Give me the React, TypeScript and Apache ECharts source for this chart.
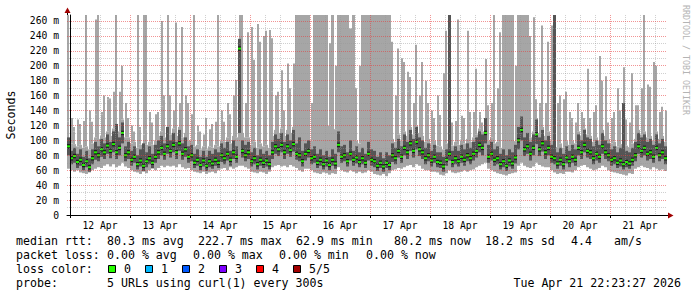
import React, { useEffect, useRef } from 'react';
import * as echarts from 'echarts';

// time axis: hours relative to 12 Apr 00:00; one column = 1.2 h
const X_MIN = -1.2;
const X_MAX = 238.8;
const STEP_HOURS = 1.2;
const Y_MAX = 268;

const dayLabels = ['12 Apr', '13 Apr', '14 Apr', '15 Apr', '16 Apr', '17 Apr', '18 Apr', '19 Apr', '20 Apr', '21 Apr'];
const dayStarts = [0, 24, 48, 72, 96, 120, 144, 168, 192, 216];
const dayNoons = [12, 36, 60, 84, 108, 132, 156, 180, 204, 228];
const quarterDays = [6, 12, 18, 30, 36, 42, 54, 60, 66, 78, 84, 90, 102, 108, 114, 126, 132, 138, 150, 156, 162, 174, 180, 186, 198, 204, 210, 222, 228, 234];
const yMajor = [0, 20, 40, 60, 80, 100, 120, 140, 160, 180, 200, 220, 240, 260];
const yMinor = [10, 30, 50, 70, 90, 110, 130, 150, 170, 190, 210, 230, 250];

// median rtt (ms) per column
const med = [
  92, 76, 79, 71, 74, 67, 72, 64, 76, 84,
  80, 88, 84, 93, 86, 95, 84, 90, 110, 80,
  84, 74, 78, 68, 73, 66, 72, 76, 70, 78,
  84, 90, 82, 92, 86, 94, 84, 96, 82, 88,
  78, 80, 70, 74, 67, 73, 66, 72, 69, 74,
  70, 80, 76, 82, 74, 84, 78, 223, 86, 80,
  84, 72, 76, 68, 74, 70, 73, 68, 84, 92,
  88, 94, 84, 92, 87, 95, 82, 80, 72, 82,
  86, 76, 78, 70, 74, 68, 73, 67, 74, 69,
  94, 78, 80, 72, 82, 74, 77, 71, 76, 70,
  82, 74, 72, 66, 70, 65, 70, 67, 80, 76,
  86, 78, 90, 84, 96, 86, 98, 88, 84, 76,
  80, 73, 78, 71, 70, 65, 74, 82, 71, 76,
  72, 78, 74, 80, 76, 82, 86, 94, 90, 110,
  78, 82, 74, 76, 68, 72, 66, 73, 69, 77,
  100, 114, 88, 92, 82, 90, 108, 88, 96, 84,
  90, 78, 76, 69, 74, 68, 77, 72, 78, 74,
  90, 84, 94, 86, 84, 76, 82, 78, 92, 84,
  80, 74, 76, 70, 73, 68, 71, 69, 74, 80,
  92, 86, 90, 82, 84, 78, 90, 80, 84, 76,
];

// lowest ping per column
const lo = [
  62, 60, 58, 60, 57, 56, 55, 57, 60, 62,
  64, 63, 66, 68, 65, 68, 64, 66, 70, 65,
  63, 60, 58, 57, 55, 58, 56, 60, 62, 60,
  63, 66, 64, 66, 65, 66, 64, 68, 64, 62,
  63, 60, 58, 57, 56, 58, 55, 57, 58, 56,
  60, 62, 63, 60, 64, 62, 64, 66, 66, 64,
  62, 58, 57, 56, 58, 57, 55, 58, 64, 66,
  67, 65, 66, 64, 67, 65, 63, 60, 58, 62,
  62, 60, 57, 56, 55, 57, 56, 54, 56, 55,
  64, 60, 58, 57, 60, 58, 56, 58, 56, 57,
  60, 58, 55, 54, 53, 55, 52, 56, 60, 61,
  63, 62, 64, 66, 67, 64, 68, 66, 62, 60,
  60, 58, 58, 57, 54, 53, 56, 60, 57, 56,
  57, 58, 60, 58, 60, 61, 64, 66, 68, 70,
  62, 60, 58, 56, 55, 54, 53, 55, 56, 57,
  66, 70, 66, 64, 63, 65, 70, 67, 65, 64,
  64, 60, 57, 55, 56, 55, 58, 58, 57, 60,
  64, 66, 67, 64, 62, 60, 61, 63, 66, 64,
  60, 58, 57, 56, 55, 54, 53, 56, 55, 62,
  64, 66, 64, 63, 61, 64, 62, 60, 61, 59,
];

// upper quartile of the pings (solid smoke up to here)
const mid = [
  100, 96, 95, 92, 94, 90, 92, 88, 96, 104,
  102, 106, 104, 112, 106, 116, 110, 112, 128, 104,
  104, 96, 98, 90, 94, 92, 94, 98, 94, 100,
  106, 112, 104, 114, 108, 116, 106, 118, 104, 110,
  100, 100, 92, 94, 88, 92, 88, 92, 90, 94,
  92, 100, 98, 104, 96, 106, 104, 236, 110, 104,
  104, 94, 98, 90, 96, 92, 94, 90, 106, 114,
  110, 116, 106, 114, 110, 118, 268, 268, 268, 268,
  268, 100, 268, 268, 268, 268, 268, 120, 268, 115,
  268, 268, 268, 268, 250, 268, 100, 96, 268, 268,
  268, 268, 268, 268, 268, 268, 268, 268, 102, 98,
  108, 100, 112, 106, 118, 108, 120, 110, 106, 98,
  102, 95, 100, 93, 92, 88, 96, 268, 93, 98,
  94, 100, 96, 102, 98, 104, 108, 116, 112, 130,
  100, 104, 96, 98, 90, 268, 268, 268, 268, 99,
  268, 268, 268, 268, 104, 112, 130, 110, 118, 106,
  112, 100, 268, 91, 96, 90, 99, 94, 100, 96,
  112, 106, 116, 108, 106, 98, 104, 100, 114, 106,
  102, 96, 98, 92, 95, 150, 93, 91, 96, 102,
  114, 108, 112, 104, 106, 100, 112, 102, 106, 98,
];

// 90th percentile of the pings (thinner smoke up to here)
const body = [
  125, 118, 112, 122, 115, 120, 130, 125, 120, 135,
  130, 135, 150, 155, 150, 160, 145, 160, 150, 150,
  130, 118, 112, 110, 115, 108, 115, 125, 122, 130,
  138, 145, 155, 150, 160, 140, 138, 150, 142, 155,
  140, 128, 120, 112, 110, 108, 115, 110, 118, 112,
  122, 128, 122, 135, 128, 145, 160, 150, 160, 150,
  160, 150, 160, 140, 165, 150, 170, 150, 165, 160,
  155, 160, 140, 160, 165, 170, 268, 268, 268, 268,
  268, 150, 268, 268, 268, 268, 268, 180, 268, 170,
  268, 268, 268, 268, 250, 268, 160, 170, 268, 268,
  268, 268, 268, 268, 268, 268, 268, 268, 160, 155,
  160, 165, 160, 165, 155, 150, 165, 150, 150, 140,
  135, 130, 125, 140, 125, 130, 150, 130, 120, 120,
  150, 115, 118, 140, 125, 128, 160, 135, 120, 160,
  140, 140, 170, 150, 170, 268, 268, 268, 268, 150,
  268, 268, 268, 268, 160, 150, 150, 145, 160, 140,
  150, 160, 130, 125, 135, 130, 140, 128, 125, 120,
  140, 130, 125, 150, 125, 130, 140, 160, 150, 150,
  120, 125, 130, 140, 125, 150, 122, 120, 150, 135,
  140, 150, 160, 150, 150, 160, 155, 130, 140, 130,
];

// highest ping per column
const top = [
  268, 130, 118, 128, 122, 126, 268, 140, 125, 262,
  268, 138, 160, 158, 156, 165, 268, 165, 200, 150,
  130, 120, 112, 268, 118, 268, 268, 138, 124, 135,
  138, 260, 160, 268, 160, 140, 258, 150, 252, 160,
  150, 135, 268, 120, 112, 108, 130, 115, 122, 125,
  268, 140, 125, 150, 135, 160, 181, 268, 268, 150,
  245, 252, 208, 256, 232, 240, 247, 248, 237, 160,
  165, 194, 140, 203, 170, 203, 268, 268, 268, 268,
  268, 150, 268, 268, 268, 268, 268, 230, 268, 200,
  268, 268, 268, 268, 250, 268, 170, 200, 268, 268,
  268, 268, 268, 268, 268, 268, 268, 268, 232, 160,
  223, 210, 205, 192, 185, 150, 228, 160, 205, 180,
  150, 140, 130, 160, 134, 190, 247, 268, 124, 126,
  262, 133, 130, 247, 138, 138, 196, 138, 124, 209,
  147, 150, 268, 170, 245, 268, 268, 268, 268, 200,
  268, 268, 268, 268, 240, 265, 155, 150, 254, 150,
  232, 254, 268, 150, 160, 155, 165, 138, 130, 124,
  150, 138, 130, 196, 130, 138, 147, 213, 180, 186,
  124, 130, 138, 170, 140, 198, 128, 124, 190, 147,
  147, 170, 268, 175, 172, 205, 200, 138, 145, 140,
];

// inner (dark) smoke band
const dlo = [
  80, 68, 70, 63, 66, 60, 64, 58, 68, 74,
  72, 78, 75, 82, 76, 84, 75, 80, 96, 72,
  75, 66, 70, 61, 65, 59, 64, 68, 63, 70,
  75, 80, 74, 82, 77, 84, 75, 86, 74, 78,
  70, 72, 63, 66, 60, 65, 59, 64, 62, 66,
  63, 71, 68, 73, 66, 75, 70, 110, 77, 72,
  75, 65, 68, 61, 66, 63, 65, 61, 75, 82,
  79, 84, 75, 82, 78, 85, 74, 72, 65, 73,
  77, 68, 70, 63, 66, 61, 65, 60, 66, 62,
  84, 70, 72, 65, 73, 66, 69, 64, 68, 63,
  73, 66, 64, 59, 63, 58, 63, 60, 71, 68,
  77, 70, 80, 75, 86, 77, 88, 79, 75, 68,
  72, 65, 70, 64, 63, 58, 66, 73, 64, 68,
  65, 70, 66, 72, 68, 73, 77, 84, 80, 96,
  70, 73, 66, 68, 61, 64, 59, 65, 62, 69,
  88, 100, 79, 82, 73, 80, 95, 79, 85, 75,
  80, 70, 68, 62, 66, 61, 69, 64, 70, 66,
  80, 75, 84, 77, 75, 68, 73, 70, 82, 75,
  72, 66, 68, 63, 65, 61, 64, 62, 66, 72,
  82, 77, 80, 73, 75, 70, 80, 72, 75, 68,
];
const dhi = [
  104, 86, 90, 82, 88, 78, 86, 76, 88, 98,
  92, 102, 96, 108, 98, 112, 122, 104, 124, 92,
  98, 86, 92, 80, 88, 96, 84, 92, 82, 94,
  100, 106, 96, 118, 100, 110, 98, 114, 96, 104,
  92, 94, 82, 88, 78, 86, 78, 86, 82, 88,
  84, 96, 90, 98, 86, 100, 92, 236, 100, 94,
  98, 84, 90, 80, 88, 82, 86, 80, 98, 108,
  102, 110, 98, 108, 100, 114, 96, 104, 86, 96,
  100, 88, 92, 82, 88, 80, 86, 78, 88, 82,
  112, 92, 94, 84, 100, 86, 92, 84, 90, 82,
  98, 88, 86, 78, 84, 76, 84, 80, 96, 90,
  102, 92, 108, 98, 114, 102, 118, 104, 100, 90,
  96, 86, 94, 84, 84, 78, 88, 268, 86, 92,
  86, 94, 88, 96, 90, 98, 104, 112, 108, 130,
  94, 98, 88, 92, 82, 88, 80, 88, 84, 94,
  118, 132, 104, 110, 98, 108, 128, 104, 114, 100,
  106, 94, 268, 84, 90, 82, 92, 86, 94, 88,
  108, 100, 114, 104, 102, 92, 100, 94, 110, 100,
  96, 88, 92, 84, 90, 150, 86, 84, 90, 98,
  110, 104, 108, 98, 102, 94, 108, 96, 102, 92,
];

const rttStats = ['80.3 ms avg', '222.7 ms max', '62.9 ms min', '80.2 ms now', '18.2 ms sd', '4.4', 'am/s'];
const rttX = [107, 198, 296, 394, 485, 571, 614];
const lossStats = ['0.00 % avg', '0.00 % max', '0.00 % min', '0.00 % now'];
const lossX = [107, 193, 279, 366];
const lossLabels = ['0', '1', '2', '3', '4', '5/5'];
const lossColors = ['#26ff00', '#00b8ff', '#0059ff', '#7e00ff', '#ff0000', '#a10000'];
const lossBoxX = [108, 145, 182, 219, 256, 293];

const MONO = '"DejaVu Sans Mono", monospace';
const LIGHT = '#a6a6a6';
const DARK = '#555555';
const CORE = '#1c1c1c';
const GREEN = '#22f000';
const RED_GRID = 'rgba(230, 60, 60, 0.55)';
const GREY_GRID = 'rgba(150, 150, 150, 0.45)';

export default function App() {
  const ref = useRef<HTMLDivElement>(null);

  useEffect(() => {
    if (!ref.current) return;
    const chart = echarts.init(ref.current, null, { renderer: 'svg' });

    const data = med.map((m, i) => [X_MIN + STEP_HOURS * (i + 0.5), lo[i], mid[i], body[i], top[i], dlo[i], dhi[i], m, i % 2]);

    const renderItem = (params: any, api: any) => {
      const xc = api.value(0);
      const w = api.size([STEP_HOURS, 0])[0];
      const pLo = api.coord([xc, api.value(1)]);
      const left = pLo[0] - w / 2;
      const yLo = pLo[1];
      const yMid = api.coord([xc, api.value(2)])[1];
      const yBody = Math.min(yMid, api.coord([xc, api.value(3)])[1]);
      const yTop = Math.min(yBody, api.coord([xc, api.value(4)])[1]);
      const yDlo = api.coord([xc, api.value(5)])[1];
      const yDhi = api.coord([xc, api.value(6)])[1];
      const yMed = api.coord([xc, api.value(7)])[1];
      const shift = api.value(8) ? w / 3 : 0;
      const core = api.size([0, 3])[1];
      const children: any[] = [
        { type: 'rect', shape: { x: left, y: yMid, width: w, height: yLo - yMid }, style: { fill: LIGHT } },
      ];
      if (yBody < yMid) {
        children.push({ type: 'rect', shape: { x: left + shift, y: yBody, width: w * 2 / 3, height: yMid - yBody }, style: { fill: LIGHT } });
      }
      if (yTop < yBody) {
        children.push({ type: 'rect', shape: { x: left + shift, y: yTop, width: w * 2 / 3, height: yBody - yTop }, style: { fill: LIGHT } });
      }
      children.push({ type: 'rect', shape: { x: left, y: yDhi, width: w, height: yDlo - yDhi }, style: { fill: DARK } });
      children.push({ type: 'rect', shape: { x: left, y: yMed - core, width: w, height: core * 2 }, style: { fill: CORE } });
      children.push({ type: 'rect', shape: { x: left, y: yMed - 1, width: w, height: 2 }, style: { fill: GREEN } });
      return { type: 'group', children };
    };

    const textEl = (text: string, x: number, y: number, extra: any = {}) => ({
      type: 'text',
      x,
      y,
      silent: true,
      style: { text, fill: '#000', font: `11.6px ${MONO}`, verticalAlign: 'middle', ...extra },
    });

    const graphics: any[] = [
      { type: 'text', x: 11, y: 115, rotation: Math.PI / 2, silent: true,
        style: { text: 'Seconds', fill: '#000', font: `11.6px ${MONO}`, align: 'center', verticalAlign: 'middle' } },
      { type: 'text', x: 686, y: 5, rotation: -Math.PI / 2, silent: true,
        style: { text: 'RRDTOOL / TOBI OETIKER', fill: '#b4b4b4', font: `8.3px ${MONO}`, align: 'left', verticalAlign: 'middle' } },
      { type: 'line', silent: true, shape: { x1: 67.5, y1: 15, x2: 67.5, y2: 12 }, style: { stroke: '#000', lineWidth: 1 } },
      { type: 'polygon', silent: true, shape: { points: [[64.5, 13], [70.5, 13], [67.5, 7.5]] }, style: { fill: '#a00000' } },
      { type: 'line', silent: true, shape: { x1: 667, y1: 215.5, x2: 669, y2: 215.5 }, style: { stroke: '#000', lineWidth: 1 } },
      { type: 'polygon', silent: true, shape: { points: [[668, 212.5], [668, 218.5], [673.5, 215.5]] }, style: { fill: '#a00000' } },
      textEl('median rtt:', 16, 241),
      ...rttStats.map((t, i) => textEl(t, rttX[i], 241)),
      textEl('packet loss:', 16, 255),
      ...lossStats.map((t, i) => textEl(t, lossX[i], 255)),
      textEl('loss color:', 16, 269),
      ...lossLabels.map((t, i) => textEl(t, lossBoxX[i] + 16, 269)),
      ...lossColors.map((c, i) => ({
        type: 'rect', silent: true,
        shape: { x: lossBoxX[i] + 0.5, y: 265.5, width: 7, height: 7 },
        style: { fill: c, stroke: '#000', lineWidth: 1 },
      })),
      textEl('probe:', 16, 283),
      textEl('5 URLs using curl(1) every 300s', 107, 283),
      textEl('Tue Apr 21 22:23:27 2026', 681, 283, { align: 'right' }),
    ];

    const option: any = {
      animation: false,
      backgroundColor: '#ffffff',
      textStyle: { fontFamily: MONO },
      grid: { left: 67, right: 30, top: 15, bottom: 82, containLabel: false, outerBoundsMode: 'none' },
      xAxis: [
        {
          type: 'value', min: X_MIN, max: X_MAX, z: 5,
          axisLine: { show: true, onZero: false, lineStyle: { color: '#000', width: 1 } },
          axisTick: { show: true, customValues: dayStarts, length: 3, lineStyle: { color: '#000' } },
          axisLabel: {
            customValues: dayNoons, margin: 5, color: '#000', fontFamily: MONO, fontSize: 9.7,
            formatter: (v: number) => dayLabels[Math.round((v - 12) / 24)] ?? '',
          },
          splitLine: { show: true, lineStyle: { color: RED_GRID, type: [1, 1], width: 1 } },
        },
        {
          type: 'value', min: X_MIN, max: X_MAX, position: 'bottom', z: 4,
          axisLine: { show: false },
          axisTick: { show: false, customValues: quarterDays },
          axisLabel: { show: false },
          splitLine: { show: true, lineStyle: { color: GREY_GRID, type: [1, 1], width: 1 } },
        },
      ],
      yAxis: [
        {
          type: 'value', min: 0, max: Y_MAX, z: 5,
          axisLine: { show: true, lineStyle: { color: '#000', width: 1 } },
          axisTick: { show: false, customValues: yMajor },
          axisLabel: {
            customValues: yMajor, margin: 8, color: '#000', fontFamily: MONO, fontSize: 9.7,
            formatter: (v: number) => (v === 0 ? '0' : `${v} m`),
          },
          splitLine: { show: true, lineStyle: { color: RED_GRID, type: [1, 1], width: 1 } },
        },
        {
          type: 'value', min: 0, max: Y_MAX, position: 'left', z: 4,
          axisLine: { show: false },
          axisTick: { show: false, customValues: yMinor },
          axisLabel: { show: false },
          splitLine: { show: true, lineStyle: { color: GREY_GRID, type: [1, 1], width: 1 } },
        },
      ],
      series: [
        {
          type: 'custom', xAxisIndex: 0, yAxisIndex: 0, silent: true, clip: true, z: 2,
          renderItem, data, encode: { x: 0, y: [1, 2, 3, 4, 5, 6, 7] },
        },
      ],
      graphic: graphics,
    };

    chart.setOption(option);
    return () => chart.dispose();
  }, []);

  return <div ref={ref} style={{ position: 'absolute', left: 0, top: 0, width: 697, height: 297, background: '#fff' }} />;
}
